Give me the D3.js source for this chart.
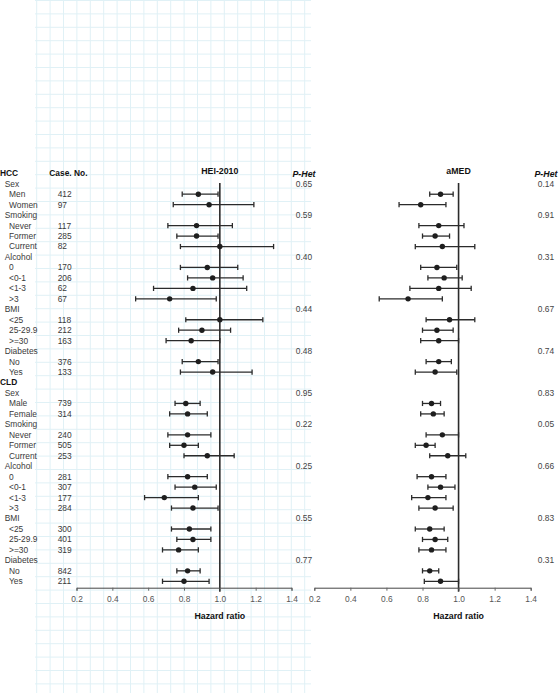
<!DOCTYPE html>
<html>
<head>
<meta charset="utf-8">
<script src="https://cdn.jsdelivr.net/npm/d3@7"></script>
<style>
  html, body { margin: 0; padding: 0; background: #fff; }
  svg { display: block; font-family: "Liberation Sans", Arial, sans-serif; }
</style>
</head>
<body>
<svg id="chart" width="559" height="693"></svg>
<script>
// ---------------- DATA ----------------
const labels = ["HCC","Sex","Men","Women","Smoking","Never","Former","Current","Alcohol","0","<0-1","<1-3",">3","BMI","<25","25-29.9",">=30","Diabetes","No","Yes",
                "CLD","Sex","Male","Female","Smoking","Never","Former","Current","Alcohol","0","<0-1","<1-3",">3","BMI","<25","25-29.9",">=30","Diabetes","No","Yes"];
const levels = [0,1,2,2,1,2,2,2,1,2,2,2,2,1,2,2,2,1,2,2,
                0,1,2,2,1,2,2,2,1,2,2,2,2,1,2,2,2,1,2,2];
const caseNo = [null,null,412,97,null,117,285,82,null,170,206,62,67,null,118,212,163,null,376,133,
                null,null,739,314,null,240,505,253,null,281,307,177,284,null,300,401,319,null,842,211];

const heiHR = [null,null,0.88,0.94,null,0.87,0.87,1.00,null,0.93,0.96,0.85,0.72,null,1.00,0.90,0.84,null,0.88,0.96,
               null,null,0.81,0.82,null,0.82,0.80,0.93,null,0.82,0.86,0.69,0.85,null,0.83,0.85,0.77,null,0.82,0.80];
const heiLo = [null,null,0.79,0.74,null,0.71,0.76,0.78,null,0.78,0.82,0.63,0.53,null,0.81,0.77,0.70,null,0.79,0.78,
               null,null,0.75,0.72,null,0.71,0.72,0.80,null,0.71,0.75,0.58,0.73,null,0.73,0.76,0.68,null,0.76,0.68];
const heiHi = [null,null,0.99,1.19,null,1.07,0.99,1.30,null,1.10,1.13,1.15,0.98,null,1.24,1.06,1.00,null,0.99,1.18,
               null,null,0.89,0.93,null,0.95,0.88,1.08,null,0.93,0.98,0.88,0.99,null,0.95,0.95,0.88,null,0.89,0.94];

const amedHR = [null,null,0.90,0.79,null,0.89,0.87,0.91,null,0.88,0.92,0.89,0.72,null,0.95,0.88,0.89,null,0.89,0.87,
                null,null,0.85,0.86,null,0.91,0.82,0.94,null,0.85,0.90,0.83,0.87,null,0.84,0.87,0.85,null,0.84,0.90];
const amedLo = [null,null,0.84,0.67,null,0.78,0.80,0.76,null,0.79,0.83,0.73,0.56,null,0.82,0.80,0.79,null,0.82,0.76,
                null,null,0.80,0.79,null,0.82,0.76,0.84,null,0.77,0.83,0.74,0.78,null,0.76,0.80,0.78,null,0.80,0.81];
const amedHi = [null,null,0.97,0.93,null,1.03,0.95,1.09,null,0.99,1.02,1.07,0.91,null,1.09,0.97,1.00,null,0.96,0.99,
                null,null,0.90,0.92,null,1.00,0.87,1.04,null,0.93,0.98,0.93,0.97,null,0.92,0.94,0.93,null,0.89,1.00];

const pHetHEI  = [null,"0.65",null,null,"0.59",null,null,null,"0.40",null,null,null,null,"0.44",null,null,null,"0.48",null,null,
                  null,"0.95",null,null,"0.22",null,null,null,"0.25",null,null,null,null,"0.55",null,null,null,"0.77",null,null];
const pHetAMED = [null,"0.14",null,null,"0.91",null,null,null,"0.31",null,null,null,null,"0.67",null,null,null,"0.74",null,null,
                  null,"0.83",null,null,"0.05",null,null,null,"0.66",null,null,null,null,"0.83",null,null,null,"0.31",null,null];

const tickValues = [0.2,0.4,0.6,0.8,1.0,1.2,1.4];
const panelTitles = ["HEI-2010","aMED"];

// ---------------- LAYOUT ----------------
const svg = d3.select("#chart");
const W = 559, H = 693;
const textCol = "#3a3a3a";
const markCol = "#2b2b2b";
const fs = 8.4;

// background grid (left area)
const gridG = svg.append("g");
const gx0 = 35, gx1 = 311;
const vLines = d3.range(36.7, gx1, 13.4);
const hLines = d3.range(0.5, H, 13.4);
gridG.selectAll("line.v").data(vLines).join("line")
  .attr("x1", d => d).attr("x2", d => d).attr("y1", 0).attr("y2", H)
  .attr("stroke", "#e0f1f6").attr("stroke-width", 1);
gridG.selectAll("line.h").data(hLines).join("line")
  .attr("x1", gx0).attr("x2", gx1).attr("y1", d => d).attr("y2", d => d)
  .attr("stroke", "#e0f1f6").attr("stroke-width", 1);

const y = d3.scaleLinear().domain([0, labels.length - 1]).range([173.3, 581.3]);

const xL = d3.scaleLinear().domain([0.2, 1.4]).range([76.5, 291.5]);
const xR = d3.scaleLinear().domain([0.2, 1.4]).range([314.3, 530.7]);
const axisY = 587.7;

// left text columns
const labelX = [0, 4.7, 9];
svg.append("g").selectAll("text").data(labels).join("text")
  .attr("x", (d, i) => labelX[levels[i]])
  .attr("y", (d, i) => y(i))
  .attr("dy", "0.35em")
  .attr("font-size", fs)
  .attr("font-weight", (d, i) => levels[i] === 0 ? "bold" : "normal")
  .attr("fill", (d, i) => levels[i] === 0 ? "#111" : textCol)
  .text(d => d);

svg.append("text").attr("x", 49.3).attr("y", y(0)).attr("dy", "0.35em")
  .attr("font-size", fs).attr("font-weight", "bold").attr("fill", "#111")
  .text("Case. No.");

svg.append("g").selectAll("text").data(caseNo.map((c, i) => ({c, i})).filter(d => d.c !== null)).join("text")
  .attr("x", 57.7).attr("y", d => y(d.i)).attr("dy", "0.35em")
  .attr("font-size", fs).attr("fill", textCol).text(d => d.c);

function panel(x, hr, lo, hi, pHet, title, pX) {
  const g = svg.append("g");
  // reference line at 1
  g.append("line").attr("x1", x(1)).attr("x2", x(1))
    .attr("y1", 183).attr("y2", axisY + 4)
    .attr("stroke", markCol).attr("stroke-width", 1.6);
  // axis
  const axis = d3.axisBottom(x).tickValues(tickValues).tickFormat(d3.format(".1f")).tickSize(3).tickPadding(5);
  const ag = g.append("g").attr("transform", `translate(0,${axisY})`).call(axis);
  ag.select(".domain").attr("stroke", "#444").attr("stroke-width", 1);
  ag.selectAll(".tick line").attr("stroke", "#666");
  ag.selectAll(".tick text").attr("font-size", fs).attr("fill", "#555")
    .attr("font-family", "'Liberation Sans', Arial, sans-serif");
  // title
  g.append("text").attr("x", x(1)).attr("y", 170.5).attr("dy", "0.35em")
    .attr("text-anchor", "middle").attr("font-size", 8.8).attr("font-weight", "bold")
    .attr("fill", "#111").text(title);
  g.append("text").attr("x", x(1)).attr("y", 616).attr("dy", "0.35em")
    .attr("text-anchor", "middle").attr("font-size", 8.8).attr("font-weight", "bold")
    .attr("fill", "#111").text("Hazard ratio");
  // P-Het
  g.append("text").attr("x", pX).attr("y", 173.5).attr("dy", "0.35em")
    .attr("text-anchor", "middle").attr("font-size", 8.8).attr("font-weight", "bold")
    .attr("font-style", "italic").attr("fill", "#111").text("P-Het");
  g.append("g").selectAll("text").data(pHet.map((p, i) => ({p, i})).filter(d => d.p !== null)).join("text")
    .attr("x", pX).attr("y", d => y(d.i)).attr("dy", "0.35em")
    .attr("text-anchor", "middle").attr("font-size", fs).attr("fill", "#444").text(d => d.p);

  const rows = hr.map((h, i) => ({h, lo: lo[i], hi: hi[i], i})).filter(d => d.h !== null);
  const eb = g.append("g").attr("stroke", markCol).attr("stroke-width", 1.3);
  eb.selectAll("line.bar").data(rows).join("line")
    .attr("x1", d => x(d.lo)).attr("x2", d => x(d.hi))
    .attr("y1", d => y(d.i)).attr("y2", d => y(d.i));
  eb.selectAll("line.cl").data(rows).join("line")
    .attr("x1", d => x(d.lo)).attr("x2", d => x(d.lo))
    .attr("y1", d => y(d.i) - 2.6).attr("y2", d => y(d.i) + 2.6);
  eb.selectAll("line.ch").data(rows).join("line")
    .attr("x1", d => x(d.hi)).attr("x2", d => x(d.hi))
    .attr("y1", d => y(d.i) - 2.6).attr("y2", d => y(d.i) + 2.6);
  g.append("g").selectAll("circle").data(rows).join("circle")
    .attr("cx", d => x(d.h)).attr("cy", d => y(d.i)).attr("r", 2.7)
    .attr("fill", "#1e1e1e");
}

panel(xL, heiHR, heiLo, heiHi, pHetHEI, panelTitles[0], 304);
panel(xR, amedHR, amedLo, amedHi, pHetAMED, panelTitles[1], 546);
</script>
</body>
</html>
